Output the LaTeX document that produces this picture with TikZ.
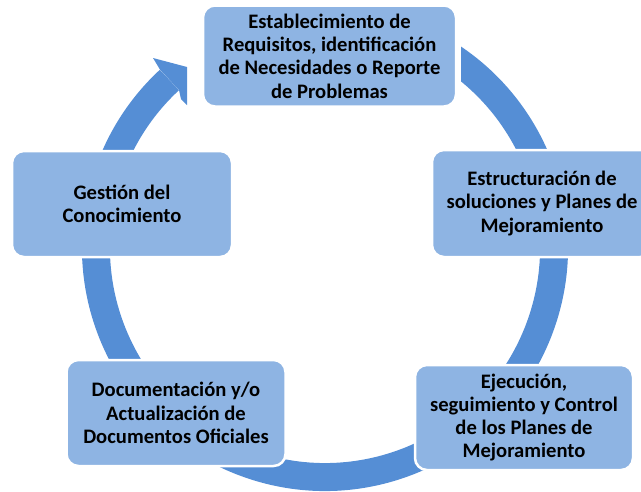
\documentclass[tikz,border=0pt]{standalone}
\usepackage{fontspec}
\setmainfont{Carlito}
\usetikzlibrary{positioning}
\definecolor{boxblue}{RGB}{142,180,227}
\definecolor{ringblue}{RGB}{85,142,213}

\begin{document}
\begin{tikzpicture}[
  x=1pt, y=-1pt,
  stage/.style={rectangle, rounded corners=12pt, draw=white, line width=2.5pt,
                fill=boxblue, align=center, inner sep=0pt,
                minimum width=219pt, minimum height=106pt,
                font=\fontsize{20.6}{23.3}\selectfont\bfseries},
  ring/.style={draw=ringblue, line width=28pt}
]
\useasboundingbox (0,0) rectangle (641,491);
\clip (0,0) rectangle (641,491);
\coordinate (c) at (325,248);

% ring behind the stages
\begin{scope}
  \clip (-50,-50) -- (187,-50) -- (187,150) -- (461,150) -- (461,-50)
        -- (700,-50) -- (700,550) -- (-50,550) -- cycle;
  \draw[ring] (c) ++(-70:229) arc[start angle=-70, end angle=227.2, radius=229];
\end{scope}
\fill[ringblue] (160,69.6) -- (153,58) -- (187,67) -- (187,105) -- (181,99) -- (179,90) -- cycle;

% stages
\node[stage, minimum width=253pt, minimum height=101pt] (req) at (329.5,56)
  {Establecimiento de\\Requisitos, identificación\\de Necesidades o Reporte\\de Problemas};
\node[stage, minimum width=220pt, minimum height=107pt] (plans) at (542,203.5)
  {Estructuración de\\soluciones y Planes de\\Mejoramiento};
\node[stage, minimum width=218pt, minimum height=105pt] (exec) at (524,417.5)
  {Ejecución,\\seguimiento y Control\\de los Planes de\\Mejoramiento};
\node[stage] (docs) at (176,413)
  {Documentación y/o\\Actualización de\\Documentos Oficiales};
\node[stage, minimum width=220pt] (know) at (122,204)
  {Gestión del\\Conocimiento};
\end{tikzpicture}
\end{document}
